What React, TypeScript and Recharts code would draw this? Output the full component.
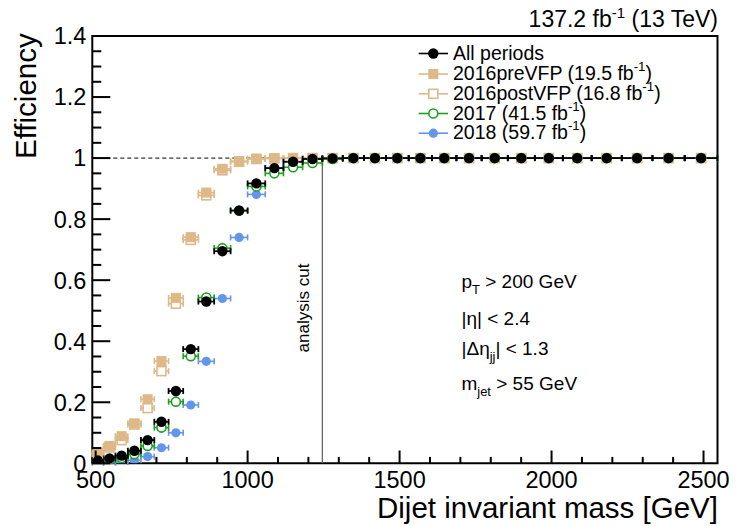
import React from 'react';
import { ScatterChart, Scatter, XAxis, YAxis, ErrorBar, ReferenceLine, ReferenceArea } from 'recharts';

// ---------- data ----------
const binEdges = [489, 526, 565, 606, 649, 693, 740, 788, 838, 890, 944, 1000, 1058, 1118, 1181, 1246, 1313, 1383, 1455, 1530, 1607, 1687, 1770, 1856, 1945, 2037, 2132, 2231, 2332, 2438, 2546];

const effAll = [0.009, 0.016, 0.025, 0.041, 0.076, 0.136, 0.237, 0.374, 0.530, 0.695, 0.828, 0.917, 0.967, 0.988, 0.997, 0.999, 1, 1, 1, 1, 1, 1, 1, 1, 1, 1, 1, 1, 1, 1];
const eff2016pre = [0.035, 0.057, 0.089, 0.131, 0.210, 0.335, 0.542, 0.741, 0.887, 0.965, 0.990, 0.998, 0.999, 1, 1, 1, 1, 1, 1, 1, 1, 1, 1, 1, 1, 1, 1, 1, 1, 1];
const eff2016post = [0.030, 0.052, 0.076, 0.127, 0.181, 0.302, 0.523, 0.732, 0.878, 0.960, 0.988, 0.997, 0.999, 1, 1, 1, 1, 1, 1, 1, 1, 1, 1, 1, 1, 1, 1, 1, 1, 1];
const eff2017 = [0.005, 0.010, 0.017, 0.030, 0.057, 0.117, 0.202, 0.351, 0.543, 0.705, 0.828, 0.907, 0.950, 0.970, 0.984, 0.997, 1, 1, 1, 1, 1, 1, 1, 1, 1, 1, 1, 1, 1, 1];
const eff2018 = [0.002, 0.002, 0.004, 0.010, 0.022, 0.051, 0.100, 0.191, 0.334, 0.540, 0.740, 0.881, 0.968, 0.988, 0.997, 1, 1, 1, 1, 1, 1, 1, 1, 1, 1, 1, 1, 1, 1, 1];

const xTicks = [500, 600, 700, 800, 900, 1000, 1100, 1200, 1300, 1400, 1500, 1600, 1700, 1800, 1900, 2000, 2100, 2200, 2300, 2400, 2500];
const yTicks = [0, 0.05, 0.1, 0.15, 0.2, 0.25, 0.3, 0.35, 0.4, 0.45, 0.5, 0.55, 0.6, 0.65, 0.7, 0.75, 0.8, 0.85, 0.9, 0.95, 1, 1.05, 1.1, 1.15, 1.2, 1.25, 1.3, 1.35, 1.4];
const analysisCut = 1246;

const legendLabels = ['All periods', '2016preVFP (19.5 fb', '2016postVFP (16.8 fb', '2017 (41.5 fb', '2018 (59.7 fb'];
// [text before subscript, subscript, text after subscript]
const cutLines = [
  ['p', 'T', ' > 200 GeV'],
  ['|η| < 2.4', '', ''],
  ['|Δη', 'jj', '| < 1.3'],
  ['m', 'jet', ' > 55 GeV'],
];

// ---------- styles ----------
const FONT = '"Liberation Sans", Arial, Helvetica, sans-serif';
const C_ALL = '#000000';
const C_TAN = '#deb887';
const C_2017 = '#1ea01e';
const C_2018 = '#6495ed';

const makeRows = (vals: number[]) =>
  binEdges.slice(0, -1).map((lo, i) => {
    const hi = binEdges[i + 1];
    return { x: (lo + hi) / 2, xerr: (hi - lo) / 2, y: vals[i] };
  });

const rowsAll = makeRows(effAll);
const rowsPre = makeRows(eff2016pre);
const rowsPost = makeRows(eff2016post);
const rows2017 = makeRows(eff2017);
const rows2018 = makeRows(eff2018);

const FilledCircle = (color: string, r: number) => (p: any) =>
  <circle cx={p.cx} cy={p.cy} r={r} fill={color} />;
const OpenCircle = (color: string, r: number) => (p: any) =>
  <circle cx={p.cx} cy={p.cy} r={r} fill="#fff" stroke={color} strokeWidth={1.6} />;
const FilledSquare = (color: string, s: number) => (p: any) =>
  <rect x={p.cx - s / 2} y={p.cy - s / 2} width={s} height={s} fill={color} />;
const OpenSquare = (color: string, s: number) => (p: any) =>
  <rect x={p.cx - s / 2} y={p.cy - s / 2} width={s} height={s} fill="#fff" stroke={color} strokeWidth={1.6} />;

const XTick = (props: any) => {
  const { x, y, payload } = props;
  const v = payload.value;
  const major = v % 500 === 0;
  return (
    <g>
      <line x1={x} x2={x} y1={y} y2={y - (major ? 12.8 : 6.4)} stroke="#000" strokeWidth={2} />
      {major && (
        <text x={x} y={y + 25} textAnchor="middle" fontSize={23.5} fontFamily={FONT} fill="#000">
          {v}
        </text>
      )}
    </g>
  );
};

const YTick = (props: any) => {
  const { x, y, payload } = props;
  const v = payload.value;
  const major = Math.abs(v * 5 - Math.round(v * 5)) < 1e-6;
  return (
    <g>
      <line x1={x} x2={x + (major ? 18 : 9)} y1={y} y2={y} stroke="#000" strokeWidth={2} />
      {major && (
        <text x={x - 6} y={y + 8.4} textAnchor="end" fontSize={23.5} fontFamily={FONT} fill="#000">
          {Math.round(v * 10) / 10}
        </text>
      )}
    </g>
  );
};

const Sup = ({ text, size }: { text: string; size: number }) => (
  <>
    <tspan dy={-size * 0.45} fontSize={size * 0.68}>{text}</tspan>
    <tspan dy={size * 0.45}>)</tspan>
  </>
);

const LegendMarker = ({ i, x, y }: { i: number; x: number; y: number }) => {
  if (i === 0) return <circle cx={x} cy={y} r={5.2} fill={C_ALL} />;
  if (i === 1) return <rect x={x - 5} y={y - 5} width={10} height={10} fill={C_TAN} />;
  if (i === 2) return <rect x={x - 4.5} y={y - 4.5} width={9} height={9} fill="#fff" stroke={C_TAN} strokeWidth={1.6} />;
  if (i === 3) return <circle cx={x} cy={y} r={4.5} fill="#fff" stroke={C_2017} strokeWidth={1.6} />;
  return <circle cx={x} cy={y} r={4.6} fill={C_2018} />;
};
const legendColors = [C_ALL, C_TAN, C_TAN, C_2017, C_2018];

export default function App() {
  const legendBase = [59.5, 80, 99.8, 119.5, 139.2];
  const cutBase = [288, 325, 355, 390];
  const fs = 19;
  return (
    <div style={{ position: 'absolute', left: 0, top: 0, width: 736, height: 526, background: '#fff' }}>
      <ScatterChart width={736} height={526} margin={{ top: 36, right: 18.5, bottom: 22.7, left: 32.3 }}>
        <XAxis
          type="number"
          dataKey="x"
          domain={[489, 2546]}
          ticks={xTicks}
          interval={0}
          allowDataOverflow
          axisLine={false}
          tickLine={false}
          tickSize={0}
          tickMargin={0}
          height={40}
          tick={<XTick />}
        />
        <YAxis
          type="number"
          dataKey="y"
          domain={[0, 1.4]}
          ticks={yTicks}
          interval={0}
          allowDataOverflow
          axisLine={false}
          tickLine={false}
          tickSize={0}
          tickMargin={0}
          width={60}
          tick={<YTick />}
        />
        <ReferenceArea x1={489} x2={2546} y1={0} y2={1.4} fill="none" stroke="#000" strokeWidth={2} ifOverflow="visible" />
        <ReferenceLine y={1} stroke="#000" strokeWidth={1} strokeDasharray="4 3" />
        <ReferenceLine segment={[{ x: analysisCut, y: 0 }, { x: analysisCut, y: 1 }]} stroke="#666" strokeWidth={1.3} />

        <Scatter data={rowsPost} isAnimationActive={false} shape={OpenSquare(C_TAN, 9)}>
          <ErrorBar dataKey="xerr" direction="x" width={3} stroke={C_TAN} strokeWidth={1.6} isAnimationActive={false} />
        </Scatter>
        <Scatter data={rowsPre} isAnimationActive={false} shape={FilledSquare(C_TAN, 10)}>
          <ErrorBar dataKey="xerr" direction="x" width={3} stroke={C_TAN} strokeWidth={1.6} isAnimationActive={false} />
        </Scatter>
        <Scatter data={rows2018} isAnimationActive={false} shape={FilledCircle(C_2018, 4.6)}>
          <ErrorBar dataKey="xerr" direction="x" width={3} stroke={C_2018} strokeWidth={1.6} isAnimationActive={false} />
        </Scatter>
        <Scatter data={rows2017} isAnimationActive={false} shape={OpenCircle(C_2017, 4.5)}>
          <ErrorBar dataKey="xerr" direction="x" width={3} stroke={C_2017} strokeWidth={1.6} isAnimationActive={false} />
        </Scatter>
        <Scatter data={rowsAll} isAnimationActive={false} shape={FilledCircle(C_ALL, 5.2)}>
          <ErrorBar dataKey="xerr" direction="x" width={3} stroke={C_ALL} strokeWidth={1.8} isAnimationActive={false} />
        </Scatter>
      </ScatterChart>

      <svg width={736} height={526} style={{ position: 'absolute', left: 0, top: 0, pointerEvents: 'none' }} fontFamily={FONT}>
        {/* top-right lumi label */}
        <text x={718} y={26.7} textAnchor="end" fontSize={23} fill="#000">
          137.2 fb<tspan dy={-9} fontSize={15}>-1</tspan><tspan dy={9}> (13 TeV)</tspan>
        </text>

        {/* axis titles */}
        <text x={718} y={518} textAnchor="end" fontSize={29.5} fill="#000">Dijet invariant mass [GeV]</text>
        <text x={35.7} y={33.3} textAnchor="end" fontSize={29.5} fill="#000" transform="rotate(-90 35.7 33.3)">Efficiency</text>

        {/* analysis cut label */}
        <text x={308.7} y={308} textAnchor="middle" fontSize={17} fill="#000" transform="rotate(-90 308.7 308)">analysis cut</text>

        {/* legend */}
        {legendLabels.map((lab, i) => (
          <g key={lab}>
            <line x1={418.7} x2={448} y1={legendBase[i] - 6} y2={legendBase[i] - 6} stroke={legendColors[i]} strokeWidth={1.6} />
            <LegendMarker i={i} x={433.3} y={legendBase[i] - 6} />
            <text x={453} y={legendBase[i]} fontSize={19.5} fill="#000">
              {lab}
              {i > 0 && <Sup text="-1" size={19.5} />}
            </text>
          </g>
        ))}

        {/* selection text */}
        {cutLines.map((t, i) => (
          <text key={i} x={461.5} y={cutBase[i]} fontSize={fs} fill="#000">
            <tspan>{t[0]}</tspan>
            {t[1] && <tspan dy={fs * 0.3} fontSize={fs * 0.68}>{t[1]}</tspan>}
            {t[1] && <tspan dy={-fs * 0.3}>{t[2]}</tspan>}
          </text>
        ))}
      </svg>
    </div>
  );
}
